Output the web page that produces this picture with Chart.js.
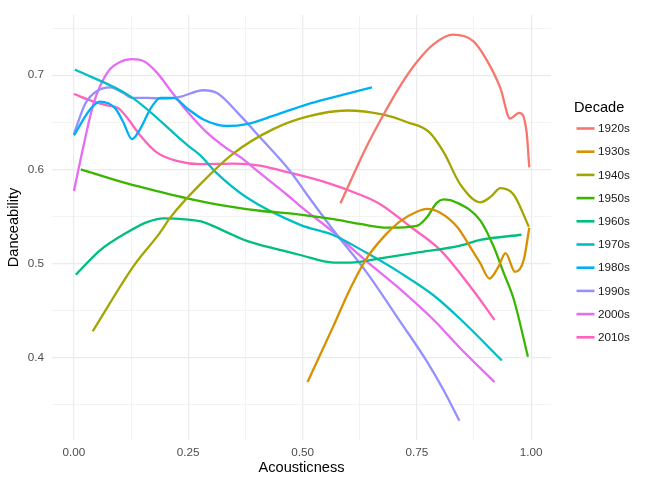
<!DOCTYPE html>
<html>
<head>
<meta charset="utf-8">
<script src="https://cdn.jsdelivr.net/npm/chart.js@4"></script>
<style>
  html, body { margin: 0; padding: 0; background: #fff; }
  #wrap { width: 647px; height: 481px; }
</style>
</head>
<body>
<div id="wrap"><canvas id="chart" width="647" height="481"></canvas></div>
<script>
// smoothed danceability vs acousticness, one curve per decade
const decades = ['1920s', '1930s', '1940s', '1950s', '1960s', '1970s', '1980s', '1990s', '2000s', '2010s'];

const acoustic1920s = [0.583, 0.641, 0.677, 0.714, 0.750, 0.787, 0.829, 0.874, 0.903, 0.933, 0.954, 0.974, 0.990, 0.996];
const dance1920s    = [0.564, 0.625, 0.658, 0.689, 0.714, 0.733, 0.743, 0.736, 0.716, 0.686, 0.654, 0.660, 0.640, 0.602];

const acoustic1930s = [0.511, 0.568, 0.604, 0.641, 0.677, 0.714, 0.750, 0.772, 0.801, 0.838, 0.870, 0.889, 0.909, 0.929, 0.944, 0.965, 0.984, 0.996];
const dance1930s    = [0.374, 0.434, 0.473, 0.506, 0.528, 0.545, 0.555, 0.558, 0.554, 0.539, 0.515, 0.500, 0.484, 0.497, 0.511, 0.491, 0.504, 0.538];

const acoustic1940s = [0.041, 0.130, 0.187, 0.211, 0.276, 0.349, 0.437, 0.510, 0.597, 0.677, 0.729, 0.776, 0.809, 0.845, 0.889, 0.912, 0.933, 0.962, 0.995];
const dance1940s    = [0.428, 0.497, 0.532, 0.549, 0.584, 0.617, 0.643, 0.656, 0.6625, 0.658, 0.650, 0.640, 0.618, 0.584, 0.565, 0.571, 0.580, 0.573, 0.539];

const acoustic1950s = [0.015, 0.116, 0.189, 0.250, 0.335, 0.407, 0.495, 0.568, 0.626, 0.685, 0.750, 0.772, 0.794, 0.809, 0.838, 0.889, 0.918, 0.940, 0.962, 0.993];
const dance1950s    = [0.600, 0.585, 0.576, 0.569, 0.561, 0.556, 0.552, 0.547, 0.542, 0.538, 0.540, 0.549, 0.5646, 0.568, 0.5646, 0.5455, 0.518, 0.490, 0.462, 0.401];

const acoustic1960s = [0.004, 0.057, 0.116, 0.160, 0.196, 0.250, 0.283, 0.335, 0.378, 0.429, 0.495, 0.568, 0.604, 0.677, 0.750, 0.845, 0.889, 0.979];
const dance1960s    = [0.488, 0.514, 0.533, 0.544, 0.548, 0.5465, 0.544, 0.533, 0.524, 0.517, 0.509, 0.501, 0.501, 0.506, 0.5115, 0.519, 0.525, 0.5305];

const acoustic1970s = [0.002, 0.125, 0.250, 0.276, 0.310, 0.378, 0.495, 0.568, 0.641, 0.714, 0.787, 0.845, 0.936];
const dance1970s    = [0.706, 0.677, 0.625, 0.615, 0.597, 0.570, 0.541, 0.530, 0.511, 0.490, 0.466, 0.441, 0.397];

const acoustic1980s = [0.000, 0.036, 0.057, 0.090, 0.108, 0.127, 0.145, 0.167, 0.189, 0.218, 0.247, 0.283, 0.335, 0.378, 0.437, 0.510, 0.652];
const dance1980s    = [0.636, 0.664, 0.672, 0.665, 0.650, 0.632, 0.643, 0.664, 0.676, 0.676, 0.665, 0.653, 0.646, 0.648, 0.657, 0.669, 0.687];

const acoustic1990s = [0.000, 0.025, 0.050, 0.079, 0.108, 0.127, 0.160, 0.196, 0.232, 0.283, 0.313, 0.364, 0.407, 0.473, 0.510, 0.568, 0.641, 0.714, 0.772, 0.809, 0.843];
const dance1990s    = [0.6375, 0.670, 0.683, 0.687, 0.681, 0.676, 0.676, 0.675, 0.677, 0.684, 0.681, 0.657, 0.634, 0.598, 0.573, 0.535, 0.490, 0.438, 0.396, 0.365, 0.333];

const acoustic2000s = [0.000, 0.021, 0.043, 0.072, 0.101, 0.127, 0.152, 0.181, 0.211, 0.247, 0.291, 0.335, 0.364, 0.407, 0.466, 0.495, 0.568, 0.641, 0.714, 0.787, 0.845, 0.920];
const dance2000s    = [0.577, 0.625, 0.670, 0.702, 0.714, 0.717, 0.715, 0.703, 0.684, 0.662, 0.639, 0.622, 0.613, 0.596, 0.573, 0.561, 0.533, 0.502, 0.4725, 0.440, 0.410, 0.374];

const acoustic2010s = [0.000, 0.043, 0.072, 0.097, 0.116, 0.145, 0.181, 0.225, 0.276, 0.349, 0.407, 0.451, 0.546, 0.626, 0.670, 0.736, 0.801, 0.874, 0.920];
const dance2010s    = [0.680, 0.672, 0.668, 0.665, 0.655, 0.636, 0.618, 0.609, 0.6055, 0.606, 0.604, 0.599, 0.587, 0.573, 0.563, 0.539, 0.5145, 0.471, 0.440];

const xTickValues = [0, 0.25, 0.5, 0.75, 1];
const xTickLabels = ['0.00', '0.25', '0.50', '0.75', '1.00'];
const yTickValues = [0.4, 0.5, 0.6, 0.7];
const yTickLabels = ['0.4', '0.5', '0.6', '0.7'];

const acousticAll = [acoustic1920s, acoustic1930s, acoustic1940s, acoustic1950s, acoustic1960s,
                     acoustic1970s, acoustic1980s, acoustic1990s, acoustic2000s, acoustic2010s];
const danceAll = [dance1920s, dance1930s, dance1940s, dance1950s, dance1960s,
                  dance1970s, dance1980s, dance1990s, dance2000s, dance2010s];

// ggplot default hue palette for 10 groups
const colors = ['#F8766D', '#D89000', '#A3A500', '#39B600', '#00BF7D',
                '#00BFC4', '#00B0F6', '#9590FF', '#E76BF3', '#FF62BC'];

const FONT = '"Liberation Sans", Arial, Helvetica, sans-serif';

// major ticks plus the minor ones halfway between them
function withMinor(major, step, min, max) {
  const out = [];
  for (let i = 0; i < major.length; i++) {
    out.push(major[i]);
    if (i < major.length - 1) out.push(major[i] + step / 2);
  }
  const lo = major[0] - step / 2, hi = major[major.length - 1] + step / 2;
  if (lo >= min) out.unshift(lo);
  if (hi <= max) out.push(hi);
  return out;
}
function isMajor(list, v) {
  return list.some(m => Math.abs(m - v) < 1e-6);
}

const datasets = decades.map((d, i) => ({
  label: d,
  data: acousticAll[i].map((x, j) => ({ x: x, y: danceAll[i][j] })),
  borderColor: colors[i],
  backgroundColor: colors[i],
  borderWidth: 2.3,
  pointRadius: 0,
  fill: false,
  cubicInterpolationMode: 'monotone'
}));

const xMin = -0.048, xMax = 1.0435, yMin = 0.3125, yMax = 0.7639;

const extras = {
  id: 'extras',
  afterDraw(chart) {
    const c = chart.ctx;
    c.save();
    // axis titles
    c.fillStyle = '#000';
    c.font = '14.6px ' + FONT;
    c.textAlign = 'center';
    c.textBaseline = 'middle';
    const area = chart.chartArea;
    c.fillText('Acousticness', (area.left + area.right) / 2, 468);
    c.save();
    c.translate(13.5, (area.top + area.bottom) / 2);
    c.rotate(-Math.PI / 2);
    c.fillText('Danceability', 0, 0);
    c.restore();

    // legend
    c.textAlign = 'left';
    c.textBaseline = 'alphabetic';
    c.fillText('Decade', 574, 112);
    c.font = '11.7px ' + FONT;
    c.textBaseline = 'middle';
    decades.forEach((d, i) => {
      const y = 128.5 + i * 23.2;
      c.strokeStyle = colors[i];
      c.lineWidth = 2.6;
      c.beginPath();
      c.moveTo(576.5, y);
      c.lineTo(594.5, y);
      c.stroke();
      c.fillStyle = '#1a1a1a';
      c.fillText(d, 598, y + 0.5);
    });
    c.restore();
  }
};

new Chart(document.getElementById('chart'), {
  type: 'line',
  data: { datasets: datasets },
  options: {
    responsive: false,
    animation: false,
    layout: { padding: { left: 0, right: 96, top: 7, bottom: 0 } },
    plugins: { legend: { display: false }, tooltip: { enabled: false } },
    scales: {
      x: {
        type: 'linear',
        min: xMin,
        max: xMax,
        afterBuildTicks: s => { s.ticks = withMinor(xTickValues, 0.25, xMin, xMax).map(v => ({ value: v })); },
        afterFit: s => { s.height = 41; },
        border: { display: false },
        grid: {
          drawTicks: false,
          color: '#EBEBEB',
          lineWidth: ctx => isMajor(xTickValues, ctx.tick.value) ? 1.2 : 0.6
        },
        ticks: {
          padding: 6,
          color: '#4D4D4D',
          font: { family: FONT, size: 11.7 },
          maxRotation: 0,
          autoSkip: false,
          callback: v => {
            const k = xTickValues.findIndex(m => Math.abs(m - v) < 1e-6);
            return k >= 0 ? xTickLabels[k] : '';
          }
        }
      },
      y: {
        type: 'linear',
        min: yMin,
        max: yMax,
        afterBuildTicks: s => { s.ticks = withMinor(yTickValues, 0.1, yMin, yMax).map(v => ({ value: v })); },
        afterFit: s => { s.width = 52; },
        border: { display: false },
        grid: {
          drawTicks: false,
          color: '#EBEBEB',
          lineWidth: ctx => isMajor(yTickValues, ctx.tick.value) ? 1.2 : 0.6
        },
        ticks: {
          padding: 8,
          color: '#4D4D4D',
          font: { family: FONT, size: 11.7 },
          autoSkip: false,
          callback: v => {
            const k = yTickValues.findIndex(m => Math.abs(m - v) < 1e-6);
            return k >= 0 ? yTickLabels[k] : '';
          }
        }
      }
    }
  },
  plugins: [extras]
});
</script>
</body>
</html>
